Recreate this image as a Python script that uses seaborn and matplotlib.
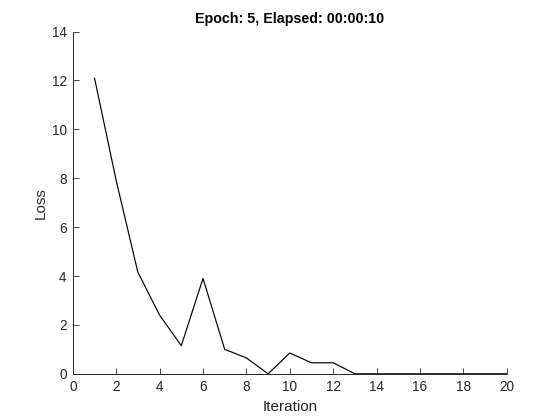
import matplotlib
matplotlib.use("Agg")
import matplotlib.pyplot as plt
import seaborn as sns
import pandas as pd

iterations = list(range(1, 21))
loss = [12.1, 7.9, 4.15, 2.4, 1.15, 3.9, 1.0, 0.65, 0.0, 0.85,
        0.45, 0.45, 0.0, 0.0, 0.0, 0.0, 0.0, 0.0, 0.0, 0.0]
title = "Epoch: 5, Elapsed: 00:00:10"
x_ticks = list(range(0, 21, 2))
y_ticks = list(range(0, 15, 2))

sns.set_style("white")
plt.rcParams['font.family'] = ['Liberation Sans', 'DejaVu Sans']

df = pd.DataFrame({"Iteration": iterations, "Loss": loss})

fig = plt.figure(figsize=(5.6, 4.2), dpi=100)
ax = fig.add_axes([0.13, 0.11, 0.775, 0.815])
sns.lineplot(data=df, x="Iteration", y="Loss", ax=ax, color="black", linewidth=0.85)

ax.set_xlim(0, 20)
ax.set_ylim(0, 14)
ax.set_xticks(x_ticks)
ax.set_yticks(y_ticks)
ax.tick_params(bottom=True, left=True, direction="in", length=4, width=0.6,
               labelsize=9.8, colors="#262626", pad=4.5)
for s in ["top", "right"]:
    ax.spines[s].set_visible(False)
for s in ["left", "bottom"]:
    ax.spines[s].set_color("#262626")
    ax.spines[s].set_linewidth(0.7)
ax.set_xlabel("Iteration", fontsize=11, color="#262626", labelpad=4)
ax.set_ylabel("Loss", fontsize=11, color="#262626", labelpad=3)
ax.set_title(title, fontsize=10.3, fontweight="bold", color="black", pad=6)

fig.savefig("out.png", dpi=100, facecolor="white")
